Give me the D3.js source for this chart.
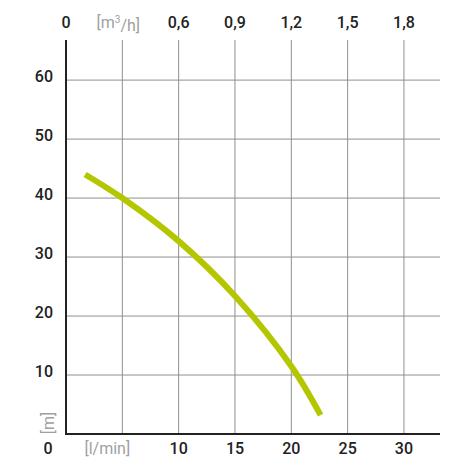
<!DOCTYPE html>
<html>
<head>
<meta charset="utf-8">
<script src="https://cdn.jsdelivr.net/npm/d3@7"></script>
<style>
  body { margin: 0; background: #fff; }
  text { font-family: Roboto, "DejaVu Sans", sans-serif; }
</style>
</head>
<body>
<div id="chart"></div>
<script>
// pump curve: flow [l/min] vs head [m]
var flowLmin = [1.7, 5, 10, 15, 20, 22.6]
var headM = [44, 40, 32.7, 23.4, 11.5, 3.2]

var bottomTicks = [10, 15, 20, 25, 30]
var topTicks = [0.6, 0.9, 1.2, 1.5, 1.8]   // m3/h, 1 m3/h = 16.667 l/min
var leftTicks = [10, 20, 30, 40, 50, 60]

var width = 470, height = 470
var x0 = 66, x1 = 440, yTop = 40, yBase = 434

var svg = d3.select('#chart').append('svg')
    .attr('width', width)
    .attr('height', height)

var x = d3.scaleLinear().domain([0, 33.2]).range([x0, x1])
var y = d3.scaleLinear().domain([0, 66.8]).range([yBase, yTop])

// grid
var gridX = [5].concat(bottomTicks)
svg.selectAll('.vgrid').data(gridX).enter().append('line')
    .attr('x1', d => x(d)).attr('x2', d => x(d))
    .attr('y1', yTop).attr('y2', yBase)
    .attr('stroke', '#8f8f8f').attr('stroke-width', 1)

svg.selectAll('.hgrid').data(leftTicks).enter().append('line')
    .attr('x1', x0).attr('x2', x1)
    .attr('y1', d => y(d)).attr('y2', d => y(d))
    .attr('stroke', '#8f8f8f').attr('stroke-width', 1)

// axes
svg.append('line').attr('x1', x0).attr('x2', x0).attr('y1', yTop).attr('y2', yBase + 1)
    .attr('stroke', '#222').attr('stroke-width', 2)
svg.append('line').attr('x1', x0 - 1).attr('x2', x1).attr('y1', yBase).attr('y2', yBase)
    .attr('stroke', '#222').attr('stroke-width', 2)

// curve
var line = d3.line()
    .x(d => x(d[0]))
    .y(d => y(d[1]))
    .curve(d3.curveCatmullRom)

svg.append('path')
    .datum(d3.zip(flowLmin, headM))
    .attr('d', line)
    .attr('fill', 'none')
    .attr('stroke', '#b4c600')
    .attr('stroke-width', 6)

var fmt = d => String(d).replace('.', ',')
var labelStyle = function (sel) {
  sel.attr('font-size', 16).attr('font-weight', 500).attr('fill', '#222')
}

// left labels
svg.selectAll('.ylab').data(leftTicks).enter().append('text')
    .attr('x', 53).attr('y', d => y(d) - 4)
    .attr('text-anchor', 'end').attr('dy', '0.35em')
    .text(d => d).call(labelStyle)

// bottom labels
svg.selectAll('.xlab').data(bottomTicks).enter().append('text')
    .attr('x', d => x(d)).attr('y', 448)
    .attr('text-anchor', 'middle').attr('dy', '0.35em')
    .text(d => d).call(labelStyle)
svg.append('text').attr('x', 48).attr('y', 448).attr('text-anchor', 'middle')
    .attr('dy', '0.35em').text('0').call(labelStyle)
svg.append('text').attr('x', x(5) - 15).attr('y', 448).attr('text-anchor', 'middle')
    .attr('dy', '0.35em').attr('font-size', 16).attr('fill', '#a0a0a0').text('[l/min]')

// top labels (m3/h)
svg.selectAll('.tlab').data(topTicks).enter().append('text')
    .attr('x', d => x(d * 1000 / 60)).attr('y', 22)
    .attr('text-anchor', 'middle').attr('dy', '0.35em')
    .text(fmt).call(labelStyle)
svg.append('text').attr('x', x0).attr('y', 22).attr('text-anchor', 'middle')
    .attr('dy', '0.35em').text('0').call(labelStyle)
var unitTop = svg.append('text').attr('x', x(5) - 4).attr('y', 22).attr('text-anchor', 'middle')
    .attr('dy', '0.35em').attr('font-size', 16).attr('fill', '#a0a0a0')
unitTop.append('tspan').text('[m')
unitTop.append('tspan').attr('font-size', 10).attr('dy', '-0.5em').text('3')
unitTop.append('tspan').attr('dy', '0.5em').text('/h]')

// y unit
svg.append('text')
    .attr('transform', 'translate(48,' + 423 + ') rotate(-90)')
    .attr('text-anchor', 'middle').attr('dy', '0.35em')
    .attr('font-size', 16).attr('fill', '#a0a0a0').text('[m]')
</script>
</body>
</html>
